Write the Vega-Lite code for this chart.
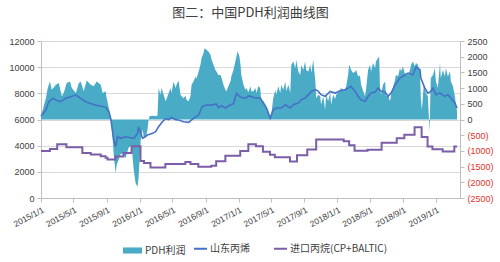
{
  "$schema": "https://vega.github.io/schema/vega-lite/v6.json",
  "width": 419,
  "height": 157,
  "autosize": {"type": "none"},
  "padding": {"left": 41, "top": 41, "right": 40, "bottom": 64},
  "background": "white",
  "title": {"text": "图二：中国PDH利润曲线图", "font": "Noto Sans CJK SC", "fontSize": 13, "fontWeight": "normal", "color": "#404040", "offset": 17, "anchor": "middle"},
  "config": {
    "view": {"stroke": null},
    "font": "Noto Sans CJK SC",
    "axisX": {
      "title": null,
      "grid": false,
      "format": "%Y/%-m/%-d",
      "labelAngle": -28,
      "labelAlign": "right",
      "labelBaseline": "top",
      "labelFontSize": 8.5,
      "labelFont": "Liberation Sans",
      "labelColor": "#404040",
      "labelPadding": 3,
      "labelFlush": false,
      "labelOverlap": false,
      "tickCount": 30,
      "domainColor": "#bfbfbf",
      "tickColor": "#bfbfbf",
      "tickSize": 4
    }
  },
  "datasets": {
    "profit": [
      {"date": "2015-01-01", "value": 100}, {"date": "2015-01-19", "value": 680}, {"date": "2015-01-26", "value": 1000},
      {"date": "2015-02-03", "value": 1210}, {"date": "2015-02-10", "value": 950}, {"date": "2015-02-25", "value": 1110},
      {"date": "2015-03-08", "value": 1160}, {"date": "2015-03-19", "value": 740}, {"date": "2015-03-26", "value": 840},
      {"date": "2015-04-06", "value": 1160}, {"date": "2015-04-18", "value": 1210}, {"date": "2015-04-25", "value": 1000},
      {"date": "2015-05-10", "value": 840}, {"date": "2015-05-21", "value": 1160}, {"date": "2015-05-28", "value": 1210},
      {"date": "2015-06-08", "value": 900}, {"date": "2015-06-19", "value": 1240}, {"date": "2015-07-04", "value": 1110},
      {"date": "2015-07-15", "value": 1060}, {"date": "2015-07-26", "value": 1210}, {"date": "2015-08-10", "value": 1110},
      {"date": "2015-08-17", "value": 840}, {"date": "2015-08-28", "value": 900}, {"date": "2015-09-01", "value": 680},
      {"date": "2015-09-09", "value": 370}, {"date": "2015-09-16", "value": 50}, {"date": "2015-09-20", "value": -300},
      {"date": "2015-09-23", "value": -590}, {"date": "2015-09-27", "value": -1120}, {"date": "2015-10-04", "value": -1710},
      {"date": "2015-10-08", "value": -1440}, {"date": "2015-10-15", "value": -1290}, {"date": "2015-10-23", "value": -1100},
      {"date": "2015-10-30", "value": -1080}, {"date": "2015-11-10", "value": -1230}, {"date": "2015-11-21", "value": -900},
      {"date": "2015-12-02", "value": -830}, {"date": "2015-12-10", "value": -1600}, {"date": "2015-12-17", "value": -2030},
      {"date": "2015-12-24", "value": -2140}, {"date": "2015-12-28", "value": -1840}, {"date": "2016-01-05", "value": -650},
      {"date": "2016-01-12", "value": -330}, {"date": "2016-01-16", "value": -550}, {"date": "2016-01-23", "value": -600},
      {"date": "2016-01-30", "value": -330}, {"date": "2016-02-03", "value": 0}, {"date": "2016-02-07", "value": 110},
      {"date": "2016-02-18", "value": 120}, {"date": "2016-02-29", "value": 110}, {"date": "2016-03-07", "value": 130},
      {"date": "2016-03-11", "value": 1000}, {"date": "2016-03-18", "value": 790}, {"date": "2016-03-22", "value": 1000},
      {"date": "2016-04-06", "value": 580}, {"date": "2016-04-13", "value": 740}, {"date": "2016-04-24", "value": 1000},
      {"date": "2016-04-28", "value": 840}, {"date": "2016-05-05", "value": 1210}, {"date": "2016-05-13", "value": 1000},
      {"date": "2016-05-16", "value": 1100}, {"date": "2016-05-24", "value": 1240}, {"date": "2016-05-31", "value": 790},
      {"date": "2016-06-04", "value": 750}, {"date": "2016-06-11", "value": 680}, {"date": "2016-06-19", "value": 760},
      {"date": "2016-06-22", "value": 630}, {"date": "2016-06-30", "value": 580}, {"date": "2016-07-07", "value": 740},
      {"date": "2016-07-11", "value": 1110}, {"date": "2016-07-18", "value": 1210}, {"date": "2016-07-26", "value": 1370},
      {"date": "2016-07-29", "value": 1300}, {"date": "2016-08-06", "value": 1530}, {"date": "2016-08-13", "value": 1740},
      {"date": "2016-08-17", "value": 1960}, {"date": "2016-08-24", "value": 2110}, {"date": "2016-08-28", "value": 2270},
      {"date": "2016-09-04", "value": 2220}, {"date": "2016-09-12", "value": 2160}, {"date": "2016-09-19", "value": 2060},
      {"date": "2016-09-23", "value": 1900}, {"date": "2016-09-30", "value": 1740}, {"date": "2016-10-07", "value": 1580},
      {"date": "2016-10-11", "value": 1530}, {"date": "2016-10-18", "value": 1420}, {"date": "2016-10-26", "value": 1420},
      {"date": "2016-10-30", "value": 1320}, {"date": "2016-11-06", "value": 1110}, {"date": "2016-11-13", "value": 950},
      {"date": "2016-11-17", "value": 900}, {"date": "2016-11-24", "value": 1060}, {"date": "2016-12-02", "value": 1210},
      {"date": "2016-12-05", "value": 1370}, {"date": "2016-12-13", "value": 1580}, {"date": "2016-12-20", "value": 1850},
      {"date": "2016-12-24", "value": 2010}, {"date": "2016-12-28", "value": 2170}, {"date": "2017-01-04", "value": 2010},
      {"date": "2017-01-08", "value": 1740}, {"date": "2017-01-11", "value": 1420}, {"date": "2017-01-19", "value": 1110},
      {"date": "2017-01-26", "value": 950}, {"date": "2017-01-30", "value": 1000}, {"date": "2017-02-06", "value": 870},
      {"date": "2017-02-14", "value": 1060}, {"date": "2017-02-17", "value": 900}, {"date": "2017-02-25", "value": 900},
      {"date": "2017-03-04", "value": 1000}, {"date": "2017-03-08", "value": 840}, {"date": "2017-03-15", "value": 1060},
      {"date": "2017-03-22", "value": 1000}, {"date": "2017-03-26", "value": 580}, {"date": "2017-04-02", "value": 600},
      {"date": "2017-04-10", "value": 470}, {"date": "2017-04-14", "value": 310}, {"date": "2017-04-21", "value": 210},
      {"date": "2017-04-28", "value": 50}, {"date": "2017-05-02", "value": 150}, {"date": "2017-05-09", "value": 680},
      {"date": "2017-05-17", "value": 950}, {"date": "2017-05-20", "value": 790}, {"date": "2017-05-28", "value": 1060},
      {"date": "2017-06-04", "value": 840}, {"date": "2017-06-08", "value": 1110}, {"date": "2017-06-15", "value": 950},
      {"date": "2017-06-23", "value": 1210}, {"date": "2017-06-26", "value": 900}, {"date": "2017-07-04", "value": 1110},
      {"date": "2017-07-11", "value": 840}, {"date": "2017-07-15", "value": 1740}, {"date": "2017-07-22", "value": 1850},
      {"date": "2017-07-30", "value": 1640}, {"date": "2017-08-02", "value": 1900}, {"date": "2017-08-10", "value": 1530},
      {"date": "2017-08-17", "value": 1420}, {"date": "2017-08-21", "value": 1740}, {"date": "2017-08-28", "value": 1580},
      {"date": "2017-09-04", "value": 1850}, {"date": "2017-09-08", "value": 1580}, {"date": "2017-09-16", "value": 1530},
      {"date": "2017-09-23", "value": 1740}, {"date": "2017-09-27", "value": 1480}, {"date": "2017-10-04", "value": 1900},
      {"date": "2017-10-12", "value": 1210}, {"date": "2017-10-15", "value": 680}, {"date": "2017-10-23", "value": 790},
      {"date": "2017-10-30", "value": 740}, {"date": "2017-11-02", "value": 470}, {"date": "2017-11-10", "value": 740},
      {"date": "2017-11-17", "value": 310}, {"date": "2017-11-21", "value": 800}, {"date": "2017-11-28", "value": 580},
      {"date": "2017-12-06", "value": 840}, {"date": "2017-12-09", "value": 470}, {"date": "2017-12-17", "value": 790},
      {"date": "2017-12-24", "value": 650}, {"date": "2017-12-28", "value": 800}, {"date": "2018-01-04", "value": 840},
      {"date": "2018-01-12", "value": 950}, {"date": "2018-01-15", "value": 1000}, {"date": "2018-01-23", "value": 950},
      {"date": "2018-01-30", "value": 980}, {"date": "2018-02-03", "value": 1060}, {"date": "2018-02-10", "value": 1420},
      {"date": "2018-02-14", "value": 1740}, {"date": "2018-02-17", "value": 1690}, {"date": "2018-02-21", "value": 1580},
      {"date": "2018-03-01", "value": 1480}, {"date": "2018-03-08", "value": 1530}, {"date": "2018-03-12", "value": 1580},
      {"date": "2018-03-19", "value": 1370}, {"date": "2018-03-26", "value": 1400}, {"date": "2018-03-30", "value": 1110},
      {"date": "2018-04-07", "value": 900}, {"date": "2018-04-14", "value": 740}, {"date": "2018-04-18", "value": 1000},
      {"date": "2018-04-25", "value": 1580}, {"date": "2018-05-02", "value": 1740}, {"date": "2018-05-06", "value": 1530},
      {"date": "2018-05-13", "value": 1800}, {"date": "2018-05-21", "value": 1640}, {"date": "2018-05-24", "value": 1850},
      {"date": "2018-06-01", "value": 1960}, {"date": "2018-06-05", "value": 2010}, {"date": "2018-06-08", "value": 1000},
      {"date": "2018-06-12", "value": 790}, {"date": "2018-06-19", "value": 1110}, {"date": "2018-06-27", "value": 1210},
      {"date": "2018-06-30", "value": 740}, {"date": "2018-07-08", "value": 760}, {"date": "2018-07-15", "value": 580},
      {"date": "2018-07-19", "value": 790}, {"date": "2018-07-26", "value": 1000}, {"date": "2018-08-03", "value": 1270},
      {"date": "2018-08-06", "value": 1420}, {"date": "2018-08-14", "value": 1380}, {"date": "2018-08-21", "value": 1640},
      {"date": "2018-08-25", "value": 1530}, {"date": "2018-09-01", "value": 1690}, {"date": "2018-09-09", "value": 1420},
      {"date": "2018-09-12", "value": 1480}, {"date": "2018-09-20", "value": 1420}, {"date": "2018-09-27", "value": 1580},
      {"date": "2018-10-01", "value": 1740}, {"date": "2018-10-08", "value": 1850}, {"date": "2018-10-15", "value": 1690},
      {"date": "2018-10-19", "value": 1800}, {"date": "2018-10-26", "value": 1740}, {"date": "2018-11-03", "value": 1530},
      {"date": "2018-11-06", "value": 680}, {"date": "2018-11-10", "value": 300}, {"date": "2018-11-17", "value": 1110},
      {"date": "2018-11-21", "value": 1000}, {"date": "2018-11-25", "value": 840}, {"date": "2018-12-02", "value": 740},
      {"date": "2018-12-06", "value": 50}, {"date": "2018-12-09", "value": -400}, {"date": "2018-12-11", "value": 680},
      {"date": "2018-12-13", "value": 1320}, {"date": "2018-12-21", "value": 1420}, {"date": "2018-12-28", "value": 1640},
      {"date": "2019-01-01", "value": 1210}, {"date": "2019-01-08", "value": 1000}, {"date": "2019-01-16", "value": 1800},
      {"date": "2019-01-19", "value": 1320}, {"date": "2019-01-27", "value": 1580}, {"date": "2019-02-03", "value": 1370},
      {"date": "2019-02-07", "value": 1640}, {"date": "2019-02-14", "value": 1370}, {"date": "2019-02-22", "value": 1530},
      {"date": "2019-02-25", "value": 1210}, {"date": "2019-03-05", "value": 1060}, {"date": "2019-03-12", "value": 740},
      {"date": "2019-03-16", "value": 470}, {"date": "2019-03-20", "value": 260}
    ],
    "propylene": [
      {"date": "2015-01-01", "value": 6270}, {"date": "2015-01-19", "value": 6720}, {"date": "2015-01-30", "value": 7360},
      {"date": "2015-02-14", "value": 7620}, {"date": "2015-02-25", "value": 7490}, {"date": "2015-03-15", "value": 7360},
      {"date": "2015-04-02", "value": 7620}, {"date": "2015-04-21", "value": 7740}, {"date": "2015-05-10", "value": 7870},
      {"date": "2015-05-28", "value": 7620}, {"date": "2015-06-15", "value": 7360}, {"date": "2015-07-04", "value": 7230},
      {"date": "2015-07-22", "value": 7100}, {"date": "2015-08-10", "value": 7030}, {"date": "2015-08-28", "value": 6930},
      {"date": "2015-09-09", "value": 6600}, {"date": "2015-09-16", "value": 6090}, {"date": "2015-09-27", "value": 4430},
      {"date": "2015-10-04", "value": 3920}, {"date": "2015-10-11", "value": 4680}, {"date": "2015-10-23", "value": 4560},
      {"date": "2015-11-10", "value": 4680}, {"date": "2015-11-28", "value": 4610}, {"date": "2015-12-10", "value": 4560},
      {"date": "2015-12-24", "value": 4940}, {"date": "2015-12-28", "value": 5450}, {"date": "2016-01-05", "value": 4940},
      {"date": "2016-01-12", "value": 4560}, {"date": "2016-01-30", "value": 4810}, {"date": "2016-02-18", "value": 4940},
      {"date": "2016-02-29", "value": 5070}, {"date": "2016-03-11", "value": 5450}, {"date": "2016-03-25", "value": 5830},
      {"date": "2016-04-06", "value": 6070}, {"date": "2016-04-17", "value": 6000}, {"date": "2016-04-28", "value": 6150},
      {"date": "2016-05-13", "value": 5990}, {"date": "2016-05-24", "value": 5960}, {"date": "2016-06-11", "value": 5830},
      {"date": "2016-06-30", "value": 5780}, {"date": "2016-07-18", "value": 6090}, {"date": "2016-08-06", "value": 6350},
      {"date": "2016-08-20", "value": 7000}, {"date": "2016-09-04", "value": 7100}, {"date": "2016-09-23", "value": 7100},
      {"date": "2016-10-11", "value": 7190}, {"date": "2016-10-18", "value": 6900}, {"date": "2016-10-30", "value": 7050},
      {"date": "2016-11-13", "value": 6880}, {"date": "2016-12-02", "value": 7130}, {"date": "2016-12-13", "value": 7200},
      {"date": "2016-12-24", "value": 8000}, {"date": "2017-01-08", "value": 7700}, {"date": "2017-01-26", "value": 7640},
      {"date": "2017-02-06", "value": 7800}, {"date": "2017-02-14", "value": 7770}, {"date": "2017-03-04", "value": 7640},
      {"date": "2017-03-22", "value": 7640}, {"date": "2017-04-02", "value": 7260}, {"date": "2017-04-14", "value": 6880},
      {"date": "2017-04-28", "value": 6110}, {"date": "2017-05-09", "value": 6750}, {"date": "2017-05-20", "value": 6880},
      {"date": "2017-06-08", "value": 6880}, {"date": "2017-06-23", "value": 7130}, {"date": "2017-07-11", "value": 6880},
      {"date": "2017-07-22", "value": 7130}, {"date": "2017-08-10", "value": 7260}, {"date": "2017-08-21", "value": 7510},
      {"date": "2017-09-04", "value": 7640}, {"date": "2017-09-16", "value": 7900}, {"date": "2017-09-27", "value": 8150},
      {"date": "2017-10-12", "value": 8280}, {"date": "2017-10-23", "value": 8150}, {"date": "2017-11-02", "value": 7900},
      {"date": "2017-11-17", "value": 7770}, {"date": "2017-12-06", "value": 8150}, {"date": "2017-12-24", "value": 8020},
      {"date": "2018-01-12", "value": 8200}, {"date": "2018-01-30", "value": 8280}, {"date": "2018-02-10", "value": 8400},
      {"date": "2018-02-21", "value": 8530}, {"date": "2018-03-08", "value": 8150}, {"date": "2018-03-19", "value": 7770},
      {"date": "2018-03-30", "value": 7510}, {"date": "2018-04-14", "value": 7380}, {"date": "2018-04-25", "value": 7770},
      {"date": "2018-05-06", "value": 8020}, {"date": "2018-05-21", "value": 8100}, {"date": "2018-06-01", "value": 8400},
      {"date": "2018-06-12", "value": 8150}, {"date": "2018-06-27", "value": 8100}, {"date": "2018-07-08", "value": 7770},
      {"date": "2018-07-19", "value": 8020}, {"date": "2018-08-03", "value": 8660}, {"date": "2018-08-21", "value": 9170},
      {"date": "2018-09-09", "value": 9420}, {"date": "2018-09-20", "value": 9550}, {"date": "2018-10-08", "value": 9400},
      {"date": "2018-10-19", "value": 10000}, {"date": "2018-11-03", "value": 9800}, {"date": "2018-11-06", "value": 9170},
      {"date": "2018-11-21", "value": 8400}, {"date": "2018-12-02", "value": 8020}, {"date": "2018-12-13", "value": 8150},
      {"date": "2018-12-21", "value": 8400}, {"date": "2019-01-01", "value": 7900}, {"date": "2019-01-16", "value": 8020},
      {"date": "2019-02-03", "value": 7770}, {"date": "2019-02-14", "value": 7900}, {"date": "2019-02-25", "value": 7640},
      {"date": "2019-03-12", "value": 7260}, {"date": "2019-03-20", "value": 6880}
    ],
    "propane": [
      {"date": "2015-01-01", "value": 3590}, {"date": "2015-02-03", "value": 3740}, {"date": "2015-03-02", "value": 4100},
      {"date": "2015-04-05", "value": 3870}, {"date": "2015-06-03", "value": 3440}, {"date": "2015-07-04", "value": 3320},
      {"date": "2015-08-10", "value": 3200}, {"date": "2015-08-28", "value": 3080}, {"date": "2015-09-04", "value": 2950},
      {"date": "2015-10-03", "value": 3180}, {"date": "2015-11-02", "value": 3440}, {"date": "2015-12-02", "value": 3950},
      {"date": "2016-01-04", "value": 2830}, {"date": "2016-01-17", "value": 2670}, {"date": "2016-02-10", "value": 2340},
      {"date": "2016-04-05", "value": 2600}, {"date": "2016-06-18", "value": 2750}, {"date": "2016-07-07", "value": 2600},
      {"date": "2016-08-05", "value": 2380}, {"date": "2016-09-22", "value": 2470}, {"date": "2016-10-10", "value": 2800},
      {"date": "2016-11-13", "value": 3220}, {"date": "2017-01-07", "value": 3600}, {"date": "2017-02-06", "value": 4100},
      {"date": "2017-03-06", "value": 3950}, {"date": "2017-04-01", "value": 3530}, {"date": "2017-04-27", "value": 3300},
      {"date": "2017-05-15", "value": 3110}, {"date": "2017-07-10", "value": 2790}, {"date": "2017-08-05", "value": 3270},
      {"date": "2017-09-12", "value": 3700}, {"date": "2017-10-15", "value": 4480}, {"date": "2018-01-25", "value": 4330},
      {"date": "2018-02-14", "value": 4030}, {"date": "2018-03-06", "value": 3610}, {"date": "2018-04-23", "value": 3690},
      {"date": "2018-06-14", "value": 4230}, {"date": "2018-08-09", "value": 4560}, {"date": "2018-09-06", "value": 4830},
      {"date": "2018-10-14", "value": 5400}, {"date": "2018-11-09", "value": 4660}, {"date": "2018-12-01", "value": 3940},
      {"date": "2018-12-19", "value": 3730}, {"date": "2019-01-26", "value": 3560}, {"date": "2019-03-10", "value": 3930},
      {"date": "2019-03-20", "value": 3930}
    ]
  },
  "layer": [
    {
      "data": {"name": "profit"},
      "mark": {"type": "area", "interpolate": "linear", "color": "#4aabc7"},
      "encoding": {
        "x": {
          "field": "date",
          "type": "temporal",
          "scale": {"type": "utc", "domain": [{"year": 2015, "month": 1, "date": 1, "utc": true}, {"year": 2019, "month": 3, "date": 31, "utc": true}]},
          "axis": {
            "labelOverlap": false,
            "tickCount": 30,
            "values": [
              {"year": 2015, "month": 1, "date": 1, "utc": true}, {"year": 2015, "month": 5, "date": 1, "utc": true},
              {"year": 2015, "month": 9, "date": 1, "utc": true}, {"year": 2016, "month": 1, "date": 1, "utc": true},
              {"year": 2016, "month": 5, "date": 1, "utc": true}, {"year": 2016, "month": 9, "date": 1, "utc": true},
              {"year": 2017, "month": 1, "date": 1, "utc": true}, {"year": 2017, "month": 5, "date": 1, "utc": true},
              {"year": 2017, "month": 9, "date": 1, "utc": true}, {"year": 2018, "month": 1, "date": 1, "utc": true},
              {"year": 2018, "month": 5, "date": 1, "utc": true}, {"year": 2018, "month": 9, "date": 1, "utc": true},
              {"year": 2019, "month": 1, "date": 1, "utc": true}
            ]
          }
        },
        "y": {
          "field": "value",
          "type": "quantitative",
          "scale": {"domain": [-2500, 2500], "nice": false, "zero": false},
          "axis": {
            "orient": "right",
            "title": null,
            "grid": false,
            "values": [-2500, -2000, -1500, -1000, -500, 0, 500, 1000, 1500, 2000, 2500],
            "tickCount": 30,
            "labelExpr": "datum.value < 0 ? '(' + format(-datum.value, 'd') + ')' : format(datum.value, 'd')",
            "labelColor": {"condition": {"test": "datum.value < 0", "value": "#e0332b"}, "value": "#404040"},
            "labelFontSize": 9,
            "labelFont": "Liberation Sans",
            "labelPadding": 3,
            "domainColor": "#bfbfbf",
            "tickColor": "#bfbfbf",
            "tickSize": 4
          }
        },
        "fill": {
          "datum": "PDH利润",
          "type": "nominal",
          "scale": {"domain": ["PDH利润"], "range": ["#4aabc7"]},
          "legend": {
            "orient": "none",
            "legendX": 82,
            "legendY": 200,
            "title": null,
            "padding": 0,
            "symbolType": "M-1,-0.32H1V0.32H-1Z",
            "symbolSize": 361,
            "symbolStrokeWidth": 0,
            "labelFontSize": 10,
            "labelFont": "Noto Sans CJK SC",
            "labelColor": "#404040",
            "labelOffset": 3
          }
        }
      }
    },
    {
      "data": {"name": "propylene"},
      "mark": {"type": "line", "strokeWidth": 1.6, "interpolate": "linear"},
      "encoding": {
        "x": {"field": "date", "type": "temporal", "axis": {"labelOverlap": false, "tickCount": 30}},
        "y": {
          "field": "value",
          "type": "quantitative",
          "scale": {"domain": [0, 12000], "nice": false},
          "axis": {
            "orient": "left",
            "title": null,
            "values": [0, 2000, 4000, 6000, 8000, 10000, 12000],
            "format": "d",
            "grid": true,
            "gridColor": "#d9d9d9",
            "labelFontSize": 9,
            "labelFont": "Liberation Sans",
            "labelColor": "#404040",
            "labelPadding": 3,
            "domainColor": "#bfbfbf",
            "tickColor": "#bfbfbf",
            "tickSize": 4
          }
        },
        "stroke": {
          "datum": "山东丙烯",
          "type": "nominal",
          "scale": {"domain": ["山东丙烯", "进口丙烷(CP+BALTIC)"], "range": ["#4472c4", "#7b5ea7"]},
          "legend": {
            "orient": "none",
            "direction": "horizontal",
            "legendX": 152,
            "legendY": 200,
            "title": null,
            "padding": 0,
            "symbolType": "stroke",
            "symbolSize": 169,
            "symbolStrokeWidth": 2,
            "columnPadding": 20,
            "labelFontSize": 10,
            "labelFont": "Noto Sans CJK SC",
            "labelColor": "#404040",
            "labelOffset": 2
          }
        }
      }
    },
    {
      "data": {"name": "propane"},
      "mark": {"type": "line", "strokeWidth": 2, "interpolate": "step-after"},
      "encoding": {
        "x": {"field": "date", "type": "temporal", "axis": {"labelOverlap": false, "tickCount": 30}},
        "y": {"field": "value", "type": "quantitative", "scale": {"domain": [0, 12000], "nice": false}, "axis": null},
        "stroke": {"datum": "进口丙烷(CP+BALTIC)", "type": "nominal"}
      }
    }
  ],
  "resolve": {"scale": {"y": "independent"}}
}
